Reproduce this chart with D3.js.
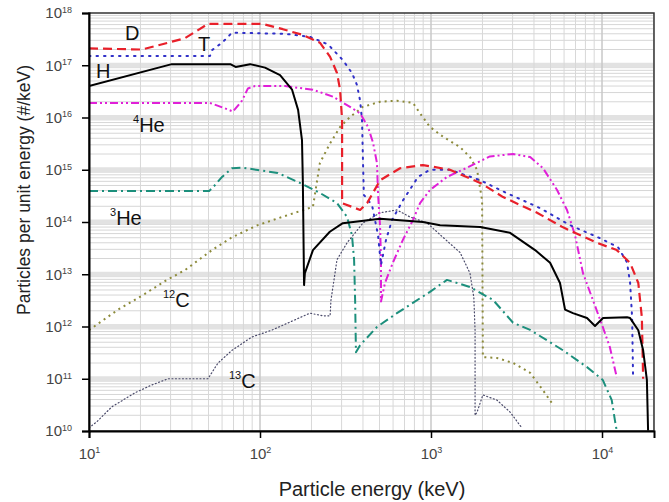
<!DOCTYPE html>
<html>
<head>
<meta charset="utf-8">
<script src="https://cdn.jsdelivr.net/npm/d3@7"></script>
<style>
  body { margin: 0; background: #fff; }
  svg { font-family: Arial, "Liberation Sans", sans-serif; }
</style>
</head>
<body>
<div id="chart"></div>
<script>
// energy (keV), particles per keV
const hData = [[10,4e16],[30.5,1.05e17],[67,1.05e17],[72,9.3e16],[87.5,1.05e17],[107,9e16],[131,6.5e16],[154,3.4e16],[167,1.4e16],[176,3.7e15],[178,6.3e14],[181,6.2e12],[183,1.05e13],[204,2.9e13],[256,6.5e13],[305,9.5e13],[504,1.15e14],[897,1e14],[1130,8.7e13],[1940,8e13],[2900,6.2e13],[4060,2.9e13],[4970,1.66e13],[5680,6.8e12],[6080,2.1e12],[6760,1.8e12],[8170,1.45e12],[9100,1.02e12],[10140,1.45e12],[14000,1.5e12],[14600,1.45e12],[16300,8.5e11],[17400,3.5e11],[18300,9.5e10],[18600,1e10]]

const dData = [[10,2.1e17],[20.4,2e17],[29,2.7e17],[36.4,3.3e17],[43.4,4.7e17],[49.6,6.2e17],[103,6.2e17],[136,4.9e17],[178,3.8e17],[224,2.7e17],[257,1.45e17],[282,7.1e16],[294,3.4e16],[302,9e15],[302,2.3e14],[385,1.7e14],[423,2.3e14],[504,6.3e14],[659,1.07e15],[898,1.23e15],[1290,1e15],[1940,5.6e14],[2640,3e14],[4170,1.5e14],[5920,7.9e13],[9350,4e13],[12200,2.9e13],[14600,1.65e13],[16300,6.8e12],[17100,1.5e12],[17400,1e11]]

const tData = [[10,1.5e17],[51,1.5e17],[52.4,1.95e17],[60,2.7e17],[68.6,4.2e17],[140,4e17],[196,3.5e17],[250,2.5e17],[305,1.26e17],[345,7.1e16],[369,4.2e16],[385,2.1e16],[395,8.9e15],[400,1.5e15],[405,3.3e14],[452,2.1e14],[490,5.6e13],[510,1.5e13],[546,4.6e13],[592,1.1e14],[686,2.6e14],[840,7.3e14],[986,1e15],[1290,1e15],[1940,6.3e14],[2710,3.7e14],[4330,1.85e14],[6500,8.7e13],[9720,4.9e13],[12400,3.3e13],[14000,1.7e13],[14600,6.8e12],[15000,1.5e12],[15200,1e11]]

const he4Data = [[10,1.9e16],[51,1.9e16],[62.4,1.5e16],[69.5,1.3e16],[78.5,2.1e16],[85,3.6e16],[93.5,4e16],[140,4e16],[204,3.4e16],[267,2.5e16],[336,1.6e16],[385,1.2e16],[428,6.6e15],[458,3.3e15],[483,1.35e15],[490,3.5e14],[504,7.9e13],[510,1.9e13],[510,3e12],[538,6.8e12],[600,1.7e13],[686,4.6e13],[785,1.1e14],[863,2.3e14],[986,4.1e14],[1240,7.3e14],[1630,1.1e15],[2210,1.8e15],[3020,2e15],[3800,1.75e15],[4520,1.07e15],[5460,4.1e14],[6240,1.7e14],[6950,5.6e13],[7740,1.05e13],[8850,3.2e12],[10100,9.8e11],[11100,4.1e11],[12200,1.07e11]]

const he3Data = [[10,3.9e14],[50.4,3.9e14],[54.6,5.1e14],[60,7.3e14],[68.6,1.07e15],[78.5,1.1e15],[97,9.9e14],[127,8.7e14],[171,5.6e14],[224,3.6e14],[282,2.3e14],[323,1.25e14],[345,5.6e13],[355,1.9e13],[360,3.2e12],[364,3.2e11],[385,4.4e11],[483,9.8e11],[632,1.8e12],[986,4.6e12],[1240,7.8e12],[1690,5.7e12],[2310,3.2e12],[3020,1.18e12],[3800,8.6e11],[5920,3.5e11],[8170,1.67e11],[10100,9.5e10],[11400,3.9e10],[11900,1.6e10],[12200,1e10]]

const c12Data = [[10,8.5e11],[11.6,1.2e12],[14.8,2.1e12],[21.2,4.2e12],[27.8,7.4e12],[36.4,1.2e13],[52.4,2.9e13],[68.6,5.1e13],[97,8.7e13],[135,1.25e14],[204,1.95e14],[224,1.35e15],[257,3.2e15],[294,6.6e15],[336,1.02e16],[400,1.6e16],[504,2e16],[632,2.1e16],[785,1.9e16],[863,1.2e16],[986,6.6e15],[1175,4.3e15],[1480,2.7e15],[1690,1.75e15],[1860,9.9e14],[1990,2.6e14],[2010,2.6e11],[2430,2.5e11],[3020,2e11],[3800,1.3e11],[4520,6e10],[5100,3.4e10]]

const c13Data = [[10,1.15e10],[11.1,1.5e10],[13.6,2.9e10],[18.6,5.4e10],[23.3,7.6e10],[29,1e11],[49.6,1e11],[56.8,2e11],[68.6,3.5e11],[89.7,6.3e11],[117,8.5e11],[196,1.8e12],[233,1.6e12],[257,1.6e12],[260,3.2e12],[267,5.7e12],[282,1.9e13],[323,4e13],[400,9.6e13],[504,1.5e14],[632,1.7e14],[753,1.25e14],[948,9.6e13],[1175,5.1e13],[1480,2.6e13],[1690,1.05e13],[1780,3.6e12],[1810,8.5e11],[1810,2e10],[1860,2.3e10],[2010,4.9e10],[2430,3.9e10],[2900,2.3e10],[3400,1.15e10]]

const xTickValues = [10, 100, 1000, 10000]
const yTickValues = [1e10, 1e11, 1e12, 1e13, 1e14, 1e15, 1e16, 1e17, 1e18]

const width = 669, height = 502
const margin = {top: 13, right: 15, bottom: 71, left: 89}

const x = d3.scaleLog()
	.domain([10, 20140])
	.range([margin.left, width - margin.right])

const y = d3.scaleLog()
	.domain([1e10, 1e18])
	.range([height - margin.bottom, margin.top])

const svg = d3.select('#chart')
	.append('svg')
		.attr('width', width)
		.attr('height', height)

svg.append('defs').append('clipPath')
		.attr('id', 'plot')
	.append('rect')
		.attr('x', margin.left)
		.attr('y', margin.top)
		.attr('width', width - margin.left - margin.right)
		.attr('height', height - margin.top - margin.bottom)

// minor values for log axes
const minors = function(lo, hi) {
	let out = []
	for (let p = lo; p < hi; p++) {
		for (let m = 2; m <= 9; m++) out.push(m * Math.pow(10, p))
	}
	return out
}
const xMinor = minors(1, 5).filter(v => v < 20140)
const yMinor = minors(10, 18)

const grid = svg.append('g')

// horizontal grid
grid.selectAll('.hmin')
	.data(yMinor)
	.enter().append('line')
		.attr('x1', margin.left).attr('x2', width - margin.right)
		.attr('y1', d => y(d)).attr('y2', d => y(d))
		.attr('stroke', '#d6d6d6').attr('stroke-width', 1)

grid.selectAll('.hmaj')
	.data(yTickValues.slice(1, -1))
	.enter().append('line')
		.attr('x1', margin.left).attr('x2', width - margin.right)
		.attr('y1', d => y(d)).attr('y2', d => y(d))
		.attr('stroke', '#e2e2e2').attr('stroke-width', 5)

// vertical grid
grid.selectAll('.vmin')
	.data(xMinor)
	.enter().append('line')
		.attr('y1', margin.top).attr('y2', height - margin.bottom)
		.attr('x1', d => x(d)).attr('x2', d => x(d))
		.attr('stroke', '#d8d8d8').attr('stroke-width', 1)

grid.selectAll('.vmaj')
	.data(xTickValues.slice(1))
	.enter().append('line')
		.attr('y1', margin.top).attr('y2', height - margin.bottom)
		.attr('x1', d => x(d)).attr('x2', d => x(d))
		.attr('stroke', '#c8c8c8').attr('stroke-width', 1.5)

// series
const series = [
	{data: c13Data, color: '#4a4a6a', width: 1.2, dash: '1,2.5'},
	{data: c12Data, color: '#8c8a3a', width: 2, dash: '2,4'},
	{data: he3Data, color: '#1c8f7c', width: 2, dash: '9,4,2,4'},
	{data: he4Data, color: '#e020d8', width: 2, dash: '8,3,2,3,2,3'},
	{data: tData, color: '#3030c8', width: 2, dash: '1.5,6'},
	{data: dData, color: '#e8202a', width: 2.2, dash: '9,5'},
	{data: hData, color: '#000000', width: 2, dash: null}
]

const line = d3.line()
	.x(d => x(d[0]))
	.y(d => y(d[1]))

svg.append('g')
		.attr('clip-path', 'url(#plot)')
		.attr('fill', 'none')
	.selectAll('path')
	.data(series)
	.enter().append('path')
		.attr('d', d => line(d.data))
		.attr('stroke', d => d.color)
		.attr('stroke-width', d => d.width)
		.attr('stroke-dasharray', d => d.dash)
		.attr('stroke-linejoin', 'round')
		.attr('stroke-linecap', d => d.dash && d.dash.startsWith('1') ? 'round' : 'butt')

// frame
svg.append('rect')
	.attr('x', margin.left).attr('y', margin.top)
	.attr('width', width - margin.left - margin.right)
	.attr('height', height - margin.top - margin.bottom)
	.attr('fill', 'none').attr('stroke', '#333').attr('stroke-width', 1.5)

const supLabel = function(sel, exp) {
	sel.text('')
	sel.append('tspan').text('10')
	sel.append('tspan').attr('dy', '-0.6em').attr('font-size', '9px').text(exp)
}

// x axis
const gx = svg.append('g')
	.attr('transform', `translate(0,${height - margin.bottom})`)

gx.call(d3.axisBottom(x).tickValues(xMinor).tickSize(5).tickFormat(''))
gx.call(d3.axisBottom(x).tickValues(xTickValues).tickSize(7).tickPadding(10).tickFormat(d => d))
gx.selectAll('.domain').attr('stroke', '#000').attr('stroke-width', 2)
gx.selectAll('.tick line').attr('stroke', '#000').attr('stroke-width', 1.5)
gx.selectAll('.tick text')
	.attr('font-size', '15px').attr('fill', '#444')
	.each(function(d) { supLabel(d3.select(this), Math.round(Math.log10(d))) })

// y axis
const gy = svg.append('g')
	.attr('transform', `translate(${margin.left},0)`)

gy.call(d3.axisLeft(y).tickValues(yMinor).tickSize(4).tickFormat(''))
gy.call(d3.axisLeft(y).tickValues(yTickValues).tickSize(7).tickPadding(6).tickFormat(d => d))
gy.selectAll('.domain').attr('stroke', '#000').attr('stroke-width', 2)
gy.selectAll('.tick line').attr('stroke', '#000').attr('stroke-width', 1.5)
gy.selectAll('.tick text')
	.attr('font-size', '15px').attr('fill', '#444').attr('dx', '-4px')
	.each(function(d) { supLabel(d3.select(this), Math.round(Math.log10(d))) })

// axis titles
svg.append('text')
	.attr('x', 372).attr('y', 496)
	.attr('text-anchor', 'middle')
	.attr('font-size', '20px').attr('fill', '#222')
	.text('Particle energy (keV)')

svg.append('text')
	.attr('transform', 'translate(30,190) rotate(-90)')
	.attr('text-anchor', 'middle')
	.attr('font-size', '17.5px').attr('fill', '#222')
	.text('Particles per unit energy (#/keV)')

// curve labels
const labels = [
	{name: 'D', pre: '', x: 125, y: 40},
	{name: 'T', pre: '', x: 198, y: 51},
	{name: 'H', pre: '', x: 96, y: 78},
	{name: 'He', pre: '4', x: 133, y: 132},
	{name: 'He', pre: '3', x: 110, y: 225},
	{name: 'C', pre: '12', x: 163, y: 307},
	{name: 'C', pre: '13', x: 229, y: 388}
]

labels.forEach(l => {
	const t = svg.append('text')
		.attr('x', l.x).attr('y', l.y)
		.attr('font-size', '20px').attr('fill', '#111')
	if (l.pre) {
		t.append('tspan').attr('font-size', '11px').attr('dy', '-9').text(l.pre)
		t.append('tspan').attr('dy', '9').text(l.name)
	} else {
		t.text(l.name)
	}
})
</script>
</body>
</html>
